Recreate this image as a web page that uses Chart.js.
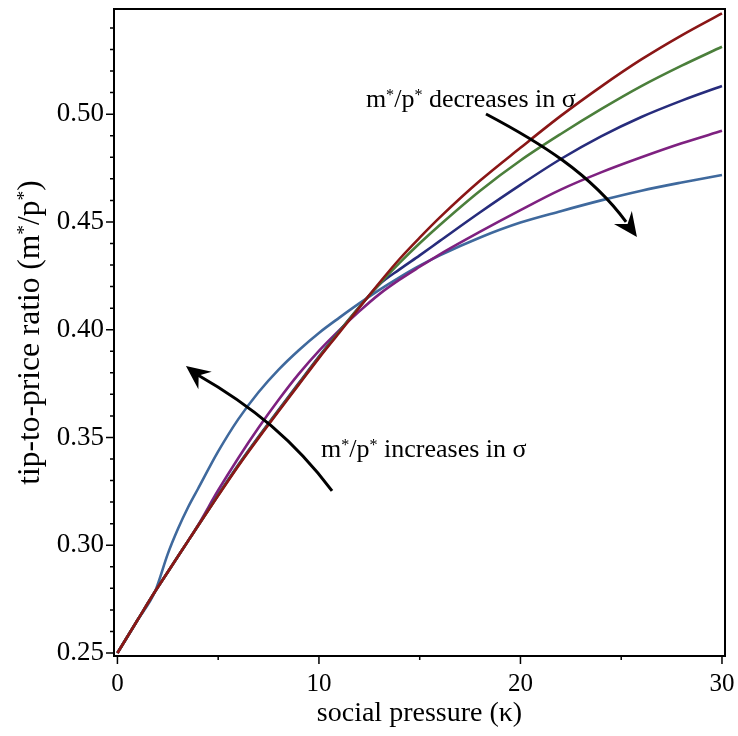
<!DOCTYPE html>
<html>
<head>
<meta charset="utf-8">
<script src="https://cdn.jsdelivr.net/npm/chart.js@4.4.1/dist/chart.umd.min.js"></script>
<style>
  html, body { margin: 0; padding: 0; background: #fff; }
  canvas { display: block; }
</style>
</head>
<body>
<canvas id="chart" width="738" height="736"></canvas>
<script>
// social pressure (kappa) sample points, shared by all curves
const kappa = [0, 1, 1.86, 2.5, 3, 3.5, 4, 5, 6, 7, 8, 9, 10, 11, 12, 13, 14, 15, 16, 18, 20, 22, 24, 26, 28, 30];

// tip-to-price ratio m*/p*, one array per sigma (red = lowest sigma ... blue = highest)
const ratioRed    = [0.25, 0.2653, 0.2784, 0.2876, 0.2948, 0.3019, 0.309, 0.3230, 0.3368, 0.3497, 0.3622, 0.3745, 0.3868, 0.3985, 0.4102, 0.4218, 0.4328, 0.4427, 0.4521, 0.4692, 0.4844, 0.4992, 0.5128, 0.5254, 0.5366, 0.5468];
const ratioGreen  = [0.25, 0.2653, 0.2784, 0.2876, 0.2948, 0.3019, 0.309, 0.3232, 0.3370, 0.3500, 0.3625, 0.3748, 0.3872, 0.3990, 0.4105, 0.4212, 0.4310, 0.4401, 0.4486, 0.4645, 0.4785, 0.4908, 0.5023, 0.5130, 0.5225, 0.5313];
const ratioNavy   = [0.25, 0.2653, 0.2784, 0.2876, 0.2948, 0.3019, 0.309, 0.3234, 0.3373, 0.3503, 0.3628, 0.3752, 0.3875, 0.3992, 0.4105, 0.4210, 0.4280, 0.4345, 0.4412, 0.4545, 0.4672, 0.4792, 0.4897, 0.4987, 0.5063, 0.5131];
const ratioPurple = [0.25, 0.2653, 0.2784, 0.2876, 0.2948, 0.3019, 0.3093, 0.3255, 0.3405, 0.3545, 0.3675, 0.3795, 0.3902, 0.3997, 0.4085, 0.4165, 0.4232, 0.4292, 0.4350, 0.4455, 0.4555, 0.4650, 0.4730, 0.4800, 0.4865, 0.4923];
const ratioBlue   = [0.25, 0.2653, 0.2784, 0.2960, 0.3075, 0.3175, 0.3262, 0.3435, 0.3585, 0.3710, 0.3815, 0.3905, 0.3985, 0.4055, 0.4122, 0.4185, 0.4243, 0.4297, 0.4345, 0.4428, 0.4497, 0.4550, 0.4600, 0.4645, 0.4683, 0.4718];

// axis ticks
const xTicks = [0, 10, 20, 30];
const xMinorTicks = [5, 15, 25];
const yTicks = [0.25, 0.30, 0.35, 0.40, 0.45, 0.50];
const yMinorTicks = [0.26, 0.27, 0.28, 0.29, 0.31, 0.32, 0.33, 0.34, 0.36, 0.37, 0.38, 0.39,
                     0.41, 0.42, 0.43, 0.44, 0.46, 0.47, 0.48, 0.49, 0.51, 0.52, 0.53, 0.54];

const series = [
    { values: ratioRed,    color: '#8a1616' },
    { values: ratioGreen,  color: '#4b7f3b' },
    { values: ratioNavy,   color: '#272c7c' },
    { values: ratioPurple, color: '#7e2180' },
    { values: ratioBlue,   color: '#3f699d' }
];

const SERIF = '"Liberation Serif", "Times New Roman", serif';

// annotation arrows, given in data units (kappa, ratio)
const arrowDecrease = { p0: [18.29, 0.5001], c1: [20.92, 0.4871], c2: [23.48, 0.4725], p3: [25.24, 0.4500], tip: [25.78, 0.4430] };
const arrowIncrease = { p0: [10.65, 0.3252], c1: [8.80, 0.3482], c2: [6.69, 0.3646], p3: [3.99, 0.3790], tip: [3.40, 0.3832] };
const labelDecrease = { at: [12.33, 0.5031], rest: ' decreases in σ' };
const labelIncrease = { at: [10.10, 0.3409], rest: ' increases in σ' };

// draw text with superscript asterisks, starting at (x, y) on the baseline
function richWidth(ctx, parts, size) {
    let w = 0;
    parts.forEach(p => {
        ctx.font = (p.sup ? size * 0.62 : size) + 'px ' + SERIF;
        w += ctx.measureText(p.t).width;
    });
    return w;
}

function drawRich(ctx, parts, x, y, size) {
    let cx = x;
    parts.forEach(p => {
        ctx.font = (p.sup ? size * 0.62 : size) + 'px ' + SERIF;
        ctx.fillText(p.t, cx, p.sup ? y - size * 0.28 : y);
        cx += ctx.measureText(p.t).width;
    });
}

function ratioParts(rest) {
    return [{ t: 'm' }, { t: '*', sup: true }, { t: '/p' }, { t: '*', sup: true }, { t: rest }];
}

function drawArrow(ctx, xs, ys, arrow) {
    const pt = v => [xs.getPixelForValue(v[0]), ys.getPixelForValue(v[1])];
    const p0 = pt(arrow.p0), c1 = pt(arrow.c1), c2 = pt(arrow.c2), p3 = pt(arrow.p3), tip = pt(arrow.tip);

    ctx.lineWidth = 3;
    ctx.beginPath();
    ctx.moveTo(p0[0], p0[1]);
    ctx.bezierCurveTo(c1[0], c1[1], c2[0], c2[1], p3[0], p3[1]);
    ctx.stroke();

    // stealth style head
    let dx = tip[0] - p3[0], dy = tip[1] - p3[1];
    const len = Math.hypot(dx, dy);
    dx /= len; dy /= len;
    const L = 24, W = 11, notch = 8;
    const bx = tip[0] - dx * L, by = tip[1] - dy * L;
    ctx.beginPath();
    ctx.moveTo(tip[0], tip[1]);
    ctx.lineTo(bx - dy * W, by + dx * W);
    ctx.lineTo(tip[0] - dx * (L - notch), tip[1] - dy * (L - notch));
    ctx.lineTo(bx + dy * W, by - dx * W);
    ctx.closePath();
    ctx.fill();
}

const framePlugin = {
    id: 'frame',
    afterDatasetsDraw(chart) {
        const { ctx, chartArea: a, scales: { x, y } } = chart;
        ctx.save();
        ctx.strokeStyle = '#000';
        ctx.fillStyle = '#000';

        // box round the plot
        ctx.lineWidth = 2;
        ctx.strokeRect(a.left, a.top, a.right - a.left, a.bottom - a.top);

        // tick marks, pointing outward
        ctx.lineWidth = 1.5;
        ctx.beginPath();
        xTicks.forEach(v => { const px = x.getPixelForValue(v); ctx.moveTo(px, a.bottom); ctx.lineTo(px, a.bottom + 8); });
        xMinorTicks.forEach(v => { const px = x.getPixelForValue(v); ctx.moveTo(px, a.bottom); ctx.lineTo(px, a.bottom + 4); });
        yTicks.forEach(v => { const py = y.getPixelForValue(v); ctx.moveTo(a.left, py); ctx.lineTo(a.left - 8, py); });
        yMinorTicks.forEach(v => { const py = y.getPixelForValue(v); ctx.moveTo(a.left, py); ctx.lineTo(a.left - 4, py); });
        ctx.stroke();

        // axis titles
        ctx.textBaseline = 'alphabetic';
        ctx.textAlign = 'center';
        ctx.font = '28px ' + SERIF;
        ctx.fillText('social pressure (κ)', (a.left + a.right) / 2, 721);

        ctx.textAlign = 'left';
        const yTitle = [{ t: 'tip-to-price ratio (m' }, { t: '*', sup: true }, { t: '/p' }, { t: '*', sup: true }, { t: ')' }];
        const tw = richWidth(ctx, yTitle, 31.5);
        ctx.save();
        ctx.translate(39, (a.top + a.bottom) / 2);
        ctx.rotate(-Math.PI / 2);
        drawRich(ctx, yTitle, -tw / 2, 0, 31.5);
        ctx.restore();

        // annotations
        [labelDecrease, labelIncrease].forEach(l => {
            drawRich(ctx, ratioParts(l.rest), x.getPixelForValue(l.at[0]), y.getPixelForValue(l.at[1]), 26);
        });
        drawArrow(ctx, x, y, arrowDecrease);
        drawArrow(ctx, x, y, arrowIncrease);

        ctx.restore();
    }
};

// drop the automatic room Chart.js keeps for overhanging tick labels
function fixPadding(scale) {
    scale.paddingLeft = 0;
    scale.paddingRight = 0;
    scale.paddingTop = 0;
    scale.paddingBottom = 0;
}

const ctx = document.getElementById('chart').getContext('2d');
new Chart(ctx, {
    type: 'line',
    data: {
        datasets: series.map(s => ({
            data: kappa.map((k, i) => ({ x: k, y: s.values[i] })),
            borderColor: s.color,
            borderWidth: 2.6,
            pointRadius: 0,
            fill: false,
            cubicInterpolationMode: 'monotone'
        }))
    },
    options: {
        responsive: false,
        animation: false,
        devicePixelRatio: 1,
        layout: { padding: { top: 9, right: 13, left: 0, bottom: 0 } },
        plugins: { legend: { display: false }, tooltip: { enabled: false } },
        scales: {
            x: {
                type: 'linear',
                min: -0.17,
                max: 30.15,
                grid: { display: false, drawTicks: false, tickLength: 0 },
                border: { display: false },
                afterBuildTicks: scale => { scale.ticks = xTicks.map(v => ({ value: v })); },
                afterFit: scale => { scale.height = 80; fixPadding(scale); },
                ticks: {
                    padding: 13,
                    maxRotation: 0,
                    color: '#000',
                    font: { family: SERIF, size: 25 },
                    callback: v => String(v)
                }
            },
            y: {
                type: 'linear',
                min: 0.2486,
                max: 0.5488,
                grid: { display: false, drawTicks: false, tickLength: 0 },
                border: { display: false },
                afterBuildTicks: scale => { scale.ticks = yTicks.map(v => ({ value: v })); },
                afterFit: scale => { scale.width = 114; fixPadding(scale); },
                ticks: {
                    padding: 10,
                    color: '#000',
                    font: { family: SERIF, size: 27 },
                    callback: v => v.toFixed(2)
                }
            }
        }
    },
    plugins: [framePlugin]
});
</script>
</body>
</html>
